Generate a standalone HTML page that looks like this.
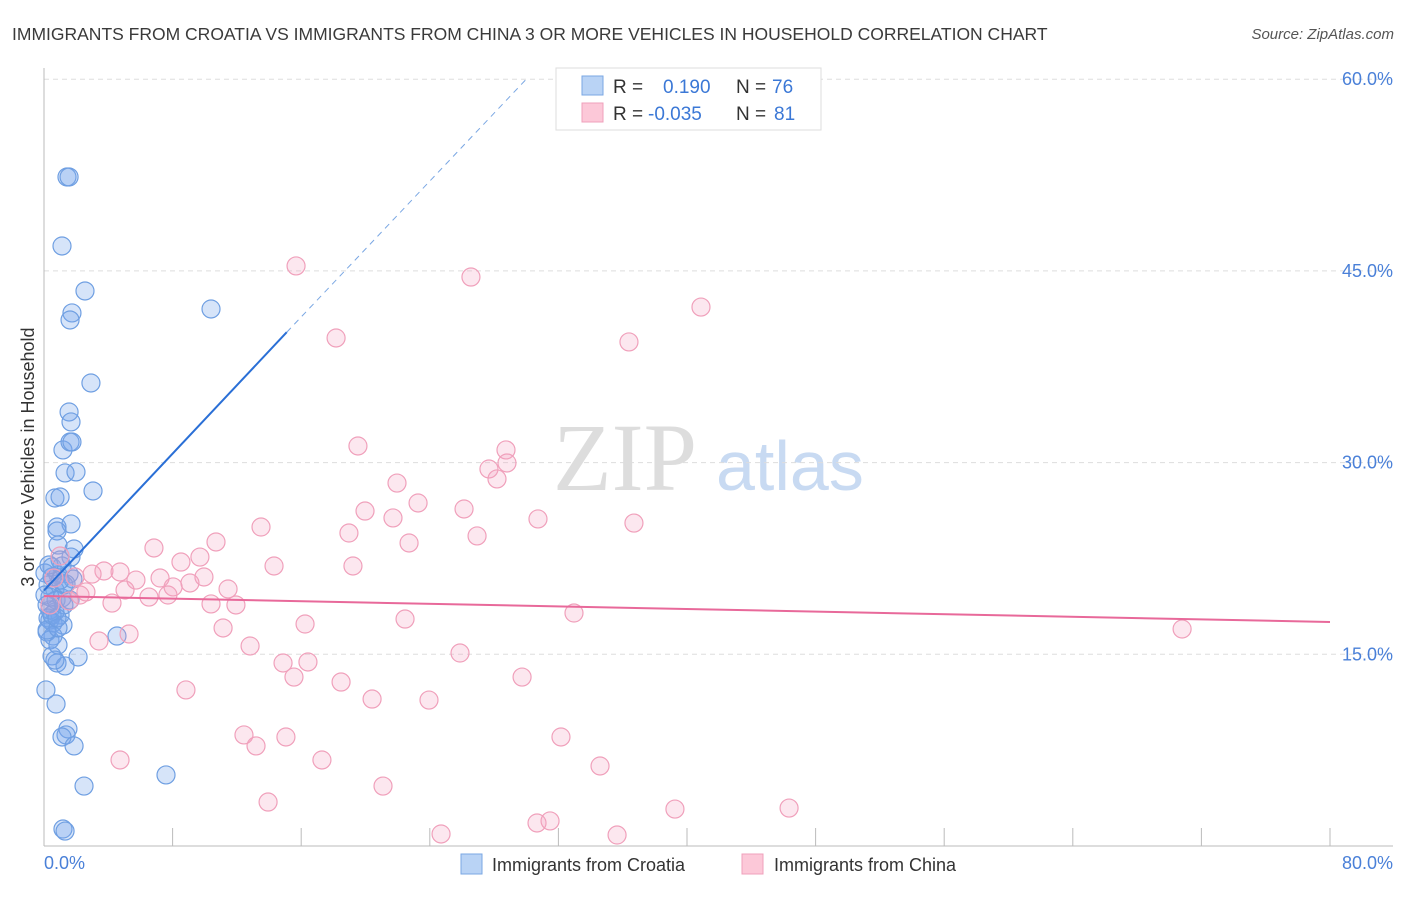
<!DOCTYPE html>
<html><head><meta charset="utf-8"><style>
body{margin:0;background:#fff;font-family:"Liberation Sans",sans-serif}
</style></head><body>
<svg width="1406" height="892" xmlns="http://www.w3.org/2000/svg">
<text x="12" y="40" font-size="17.5" fill="#3a3a3a">IMMIGRANTS FROM CROATIA VS IMMIGRANTS FROM CHINA 3 OR MORE VEHICLES IN HOUSEHOLD CORRELATION CHART</text>
<text x="1394" y="39" font-size="15" fill="#555" font-style="italic" text-anchor="end">Source: ZipAtlas.com</text>
<text x="0" y="0" transform="translate(34,457) rotate(-90)" font-size="18" fill="#333" text-anchor="middle">3 or more Vehicles in Household</text>
<g><text x="553" y="490" font-size="96" font-family="Liberation Serif,serif" fill="#ddd">ZIP</text><text x="716" y="490" font-size="70" fill="#c8daf2">atlas</text></g>
<g id="grid"></g><g id="axes"></g><g id="pts"></g><g id="trend"></g>
<g>
<rect x="556" y="68" width="265" height="62" fill="#fff" stroke="#ddd"/>
<rect x="582" y="76" width="21" height="19" fill="#b9d3f5" stroke="#7aa7e3"/>
<rect x="582" y="103" width="21" height="19" fill="#fcc8d8" stroke="#efa0bb"/>
<text x="613" y="93" font-size="19" fill="#333">R = </text><text x="663" y="93" font-size="19" fill="#3b78d6">0.190</text>
<text x="736" y="93" font-size="19" fill="#333">N = </text><text x="772" y="93" font-size="19" fill="#3b78d6">76</text>
<text x="613" y="120" font-size="19" fill="#333">R = </text><text x="648" y="120" font-size="19" fill="#3b78d6">-0.035</text>
<text x="736" y="120" font-size="19" fill="#333">N = </text><text x="774" y="120" font-size="19" fill="#3b78d6">81</text>
</g>
<g>
<rect x="461" y="854" width="21" height="20" fill="#b9d3f5" stroke="#7aa7e3"/>
<text x="492" y="871" font-size="18" fill="#333">Immigrants from Croatia</text>
<rect x="742" y="854" width="21" height="20" fill="#fcc8d8" stroke="#efa0bb"/>
<text x="774" y="871" font-size="18" fill="#333">Immigrants from China</text>
</g>
</svg>
<script>
const NS="http://www.w3.org/2000/svg";
const yTicks=[15,30,45,60];
const yTickLabels=["15.0%","30.0%","45.0%","60.0%"];
const xTickVals=[0,8,16,24,32,40,48,56,64,72,80];
const croatiaX=[1.43,1.56,1.12,2.55,1.74,1.62,10.39,2.92,1.56,1.68,1.18,1.62,1.74,1.31,1.99,3.05,0.68,1.0,0.81,1.68,0.81,0.87,1.87,1.68,0.5,1.12,0.87,1.56,0.06,1.8,0.25,1.24,0.68,0.37,1.12,0.19,0.68,1.0,0.37,0.56,1.18,0.19,0.56,4.54,0.37,0.5,2.12,0.81,1.31,0.12,0.75,1.49,1.37,1.12,1.87,2.49,7.59,1.18,1.31,0.37,0.25,0.75,0.06,1.37,0.5,1.0,0.19,0.87,0.68,1.0,1.62,0.5,0.87,1.24,0.31,0.81];
const croatiaY=[52.35,52.35,46.95,43.43,41.71,41.16,42.02,36.23,33.96,33.18,30.99,31.61,31.61,29.19,29.27,27.78,27.23,27.31,24.96,25.2,24.65,23.55,23.24,22.61,21.83,21.91,21.21,21.28,21.36,20.89,20.42,20.42,20.03,19.48,19.41,18.86,18.31,18.08,17.68,17.45,17.29,16.75,16.43,16.43,16.12,14.87,14.79,14.32,14.09,12.21,11.11,9.16,8.69,8.53,7.83,4.69,5.56,1.33,1.17,18.47,17.84,19.25,19.64,20.5,21.05,22.38,16.9,15.73,14.55,20.81,19.25,18.08,17.06,18.86,21.99,17.84];
const chinaX=[15.68,26.56,40.87,18.17,36.39,19.53,28.74,28.80,27.68,28.18,21.96,23.27,26.13,19.97,21.71,30.73,36.70,13.50,18.97,26.94,22.71,10.70,6.84,9.70,8.52,14.31,19.22,3.73,4.73,1.93,2.99,5.72,7.22,9.95,0.62,11.45,9.08,8.03,5.04,6.53,7.71,11.94,10.39,4.23,1.56,2.61,22.46,32.97,16.24,11.14,5.29,3.42,12.82,14.87,16.42,25.88,15.55,29.74,18.48,8.83,20.41,23.95,12.44,32.16,15.05,13.19,4.73,17.29,34.59,21.09,13.94,39.25,46.35,70.80,24.70,30.67,31.48,35.65,1.0,2.24,0.37];
const chinaY=[45.39,44.52,42.17,39.75,39.44,31.30,30.99,29.97,29.50,28.72,28.40,26.84,26.37,26.21,25.67,25.59,25.27,24.96,24.49,24.26,23.71,23.79,23.32,22.61,22.22,21.91,21.91,21.52,21.44,21.05,21.28,20.81,20.97,21.05,20.97,20.11,20.58,20.27,20.03,19.48,19.64,18.86,18.94,19.01,19.17,19.88,17.76,18.23,17.37,17.06,16.59,16.04,15.65,14.32,14.40,15.10,13.22,13.22,12.83,12.21,11.50,11.42,8.69,8.53,8.53,7.83,6.73,6.73,6.26,4.69,3.44,2.89,2.97,16.98,0.94,1.80,1.96,0.86,22.69,19.64,18.86];
const croatiaTrend=[[0,20.0],[15.1,40.2],[30.0,60.0]];
const chinaTrend=[[0,19.56],[80,17.53]];
const sx=v=>44+v/80*1286, sy=v=>846-v/15*191.7;
function mk(t,a,p){const e=document.createElementNS(NS,t);for(const k in a)e.setAttribute(k,a[k]);document.getElementById(p).appendChild(e);return e;}
yTicks.forEach((v,i)=>{
 const l=mk("line",{x1:44,x2:1393,y1:sy(v),y2:sy(v),stroke:"#ddd","stroke-dasharray":"5,4"},"grid");
 
 
 const t=mk("text",{x:1393,y:sy(v)+6,"font-size":18,fill:"#4a80d8","text-anchor":"end"},"grid");t.textContent=yTickLabels[i];
 
 
});
const ax=mk("line",{x1:44,x2:44,y1:68,y2:846,stroke:"#bbb"},"axes");


const bx=mk("line",{x1:44,x2:1393,y1:846,y2:846,stroke:"#bbb"},"axes");


xTickVals.forEach(v=>{const l=mk("line",{x1:sx(v),x2:sx(v),y1:828,y2:846,stroke:"#bbb"},"axes");
 
 });
const t0=mk("text",{x:44,y:869,"font-size":18,fill:"#4a80d8"},"axes");t0.textContent="0.0%";


const t1=mk("text",{x:1393,y:869,"font-size":18,fill:"#4a80d8","text-anchor":"end"},"axes");t1.textContent="80.0%";


croatiaX.forEach((x,i)=>{const c=mk("circle",{cx:sx(x),cy:sy(croatiaY[i]),r:9,fill:"rgba(120,165,235,0.3)",stroke:"#6f9fe2","stroke-width":1.2},"pts");
 
 });
chinaX.forEach((x,i)=>{const c=mk("circle",{cx:sx(x),cy:sy(chinaY[i]),r:9,fill:"rgba(245,160,190,0.25)",stroke:"#f0a0bb","stroke-width":1.2},"pts");
 
 });
const b1=mk("line",{x1:sx(croatiaTrend[0][0]),y1:sy(croatiaTrend[0][1]),x2:sx(croatiaTrend[1][0]),y2:sy(croatiaTrend[1][1]),stroke:"#2a6fd6","stroke-width":2},"trend");


const b2=mk("line",{x1:sx(croatiaTrend[1][0]),y1:sy(croatiaTrend[1][1]),x2:sx(croatiaTrend[2][0]),y2:sy(croatiaTrend[2][1]),stroke:"#7aa7e3","stroke-width":1,"stroke-dasharray":"6,5"},"trend");


const p1=mk("line",{x1:sx(chinaTrend[0][0]),y1:sy(chinaTrend[0][1]),x2:sx(chinaTrend[1][0]),y2:sy(chinaTrend[1][1]),stroke:"#e8699a","stroke-width":2},"trend");


</script>
</body></html>
